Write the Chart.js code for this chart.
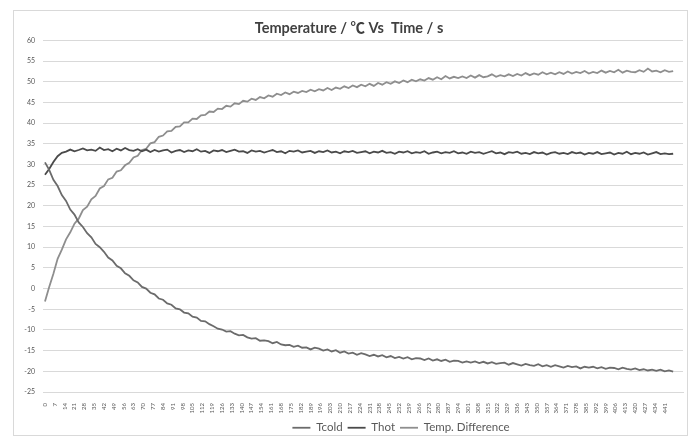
<!DOCTYPE html>
<html>
<head>
<meta charset="utf-8">
<script src="https://cdn.jsdelivr.net/npm/chart.js@4/dist/chart.umd.min.js"></script>
<style>
  body { margin: 0; background: #fff; }
  #frame { position: absolute; left: 13px; top: 10px; width: 673px; height: 424px; border: 1px solid #d9d9d9; }
  #wrap { position: absolute; left: 0; top: 0; width: 697px; height: 436px; }
</style>
</head>
<body>
<div id="frame"></div>
<div id="wrap"><canvas id="Temp_Chart" width="697" height="436"></canvas></div>
<script>
// sample times, one reading every 3 s
var seconds = Array.from({ length: 150 }, function (_, i) { return i * 3; });
var xTicks = Array.from({ length: 64 }, function (_, i) { return i * 7; });

var tcold = [
    30.5, 28.7, 26.3, 24.8, 22.6, 21.2, 19.1, 17.9, 16.0, 14.9,
    13.4, 12.4, 10.8, 10.0, 8.9, 7.5, 6.8, 5.5, 4.9, 3.7,
    3.1, 2.0, 1.5, 0.4, 0.0, -1.0, -1.4, -2.4, -2.7, -3.6,
    -3.9, -4.8, -5.0, -5.8, -6.0, -6.8, -7.0, -7.8, -7.9, -8.6,
    -9.1, -9.7, -9.9, -10.4, -10.3, -10.9, -11.3, -11.2, -11.8, -12.1,
    -12.0, -12.6, -12.5, -12.7, -13.2, -12.9, -13.5, -13.7, -13.6, -14.1,
    -13.8, -14.3, -14.2, -14.7, -14.3, -14.5, -15.0, -14.7, -15.2, -14.9,
    -15.5, -15.2, -15.7, -15.5, -16.0, -15.6, -15.9, -16.3, -16.0, -16.4,
    -16.1, -16.6, -16.3, -16.8, -16.5, -16.9, -16.6, -17.1, -16.8, -16.9,
    -17.3, -16.9, -17.4, -17.1, -17.5, -17.2, -17.7, -17.4, -17.5, -17.9,
    -17.6, -17.9, -17.6, -18.0, -17.7, -18.1, -17.8, -18.2, -18.0, -17.9,
    -18.4, -18.0, -18.3, -18.6, -18.2, -18.5, -18.7, -18.3, -18.8, -18.5,
    -18.9, -18.5, -18.8, -19.1, -18.7, -19.0, -18.8, -19.3, -18.9, -19.1,
    -18.9, -19.3, -19.0, -19.4, -19.1, -19.2, -19.5, -19.1, -19.4, -19.6,
    -19.3, -19.7, -19.5, -19.8, -19.6, -19.9, -19.6, -20.0, -19.8, -20.1
];

var thot = [
    27.5, 28.9, 30.6, 32.0, 32.8, 33.1, 33.6, 33.2, 33.5, 33.9,
    33.4, 33.6, 33.3, 34.1, 33.5, 33.7, 33.2, 33.8, 33.4, 34.0,
    33.5, 33.3, 33.7, 33.2, 33.6, 33.0, 33.5, 33.1, 33.4, 33.6,
    32.9, 33.3, 33.5, 33.0, 33.4, 33.2, 33.7, 33.1, 33.3, 32.8,
    33.4, 33.2, 33.5, 33.0, 33.3, 33.6, 33.1, 33.2, 32.8, 33.4,
    33.1, 33.3, 32.9, 33.2, 33.5, 33.0, 33.2, 32.7, 33.3, 33.1,
    33.4, 32.9, 33.1, 33.3, 32.8, 33.2, 33.0, 33.4, 32.9, 33.1,
    32.7, 33.2, 33.0, 33.3, 32.8, 33.0, 33.2, 32.7, 33.1, 32.9,
    33.3, 32.8, 33.0, 32.6, 33.1, 32.9, 33.2, 32.7, 33.0, 32.8,
    33.2, 32.6, 32.9, 33.1, 32.7, 33.0, 32.8, 33.2, 32.7, 32.9,
    32.6, 33.1, 32.8, 33.0, 32.6, 32.9, 33.2, 32.7, 32.9, 32.5,
    33.0, 32.8, 33.1, 32.6, 32.8, 32.5, 33.0, 32.7, 32.9, 32.4,
    32.8, 33.0, 32.6, 32.8, 32.5, 33.0, 32.7, 32.9, 32.4, 32.8,
    32.6, 33.0, 32.5, 32.7, 32.9, 32.4, 32.8, 32.6, 33.1, 32.5,
    32.8, 32.6, 32.9, 32.4, 32.7, 33.0, 32.5, 32.7, 32.5, 32.6
];

var tempDiff = [
    -3.1, 0.4, 3.6, 7.2, 9.4, 11.9, 13.6, 15.7, 16.9, 19.0,
    19.8, 21.6, 22.4, 24.2, 24.8, 26.4, 26.8, 28.3, 28.6, 29.8,
    30.4, 31.7, 32.1, 33.5, 33.8, 35.1, 35.4, 36.7, 37.0, 38.0,
    38.1, 39.1, 39.2, 40.2, 40.2, 41.1, 41.0, 41.9, 42.0, 42.8,
    42.7, 43.5, 43.4, 44.2, 44.0, 44.8, 44.6, 45.4, 45.2, 45.9,
    45.6, 46.3, 46.0, 46.7, 46.4, 47.1, 46.8, 47.4, 47.0, 47.6,
    47.3, 47.8, 47.5, 48.1, 47.7, 48.2, 47.9, 48.5, 48.0, 48.6,
    48.3, 48.9, 48.5, 49.1, 48.7, 49.3, 48.9, 49.5, 49.0, 49.7,
    49.3, 49.9, 49.5, 50.1, 49.7, 50.3, 49.9, 50.5, 50.1, 50.6,
    50.3, 50.9, 50.5, 51.1, 50.6, 51.4, 50.8, 51.2, 50.9, 51.3,
    50.9, 51.5, 51.0, 51.6, 51.1, 51.3, 51.8, 51.2, 51.6, 51.3,
    51.8, 51.4, 51.9, 51.5, 52.1, 51.6, 52.0, 51.7, 52.3, 51.8,
    52.2, 51.8, 52.3, 51.9, 52.5, 52.0, 52.4, 52.1, 52.6, 52.0,
    52.4, 52.1, 52.7, 52.2, 52.6, 52.3, 52.9, 52.2, 52.7, 52.4,
    52.3, 52.8, 52.4, 53.2, 52.5, 52.7, 52.3, 52.8, 52.4, 52.6
];

var seriesNames = ["Tcold", "Thot", "Temp. Difference"];
var seriesColors = ["#6b6b6b", "#4a4a4a", "#8e8e8e"];

function points(values) {
    return values.map(function (v, i) { return { x: seconds[i], y: v }; });
}

function makeSet(idx, values) {
    return {
        label: seriesNames[idx],
        data: points(values),
        borderColor: seriesColors[idx],
        backgroundColor: seriesColors[idx],
        borderWidth: 1.8,
        pointRadius: 0,
        lineTension: 0
    };
}

// legend in the reference sits right of centre
var legendShift = {
    id: 'legendShift',
    afterLayout: function (chart) {
        chart.legend.left += 52;
        chart.legend.right += 52;
    }
};

var tickFont = { family: "Lato, 'Noto Sans'", size: 7 };

new Chart(document.getElementById("Temp_Chart").getContext("2d"), {
    type: 'line',
    data: {
        datasets: [makeSet(0, tcold), makeSet(1, thot), makeSet(2, tempDiff)]
    },
    plugins: [legendShift],
    options: {
        responsive: false,
        animation: false,
        layout: { padding: { left: 15, right: 14, top: 0, bottom: 0 } },
        plugins: {
            title: {
                display: true,
                text: "Temperature / \u2103 Vs  Time / s",
                color: '#404040',
                font: { family: "Lato, 'Noto Sans CJK SC'", size: 14.5, weight: 'bold', lineHeight: 1.2 },
                padding: { top: 20, bottom: 3 }
            },
            legend: {
                position: 'bottom',
                maxHeight: 19,
                labels: {
                    usePointStyle: true,
                    pointStyle: 'line',
                    pointStyleWidth: 18,
                    boxHeight: 11,
                    padding: 5,
                    color: '#595959',
                    font: { family: "Lato, 'Noto Sans'", size: 11.5 }
                }
            },
            tooltip: { enabled: false }
        },
        scales: {
            x: {
                type: 'linear',
                min: -1.4,
                max: 454,
                afterBuildTicks: function (axis) {
                    axis.ticks = xTicks.map(function (v) { return { value: v }; });
                },
                afterFit: function (axis) { axis.height = 25; },
                grid: { display: false },
                border: { display: true, color: '#d9d9d9', width: 1 },
                ticks: {
                    autoSkip: false,
                    minRotation: 90,
                    maxRotation: 90,
                    padding: 3,
                    color: '#595959',
                    font: { family: "Lato, 'Noto Sans'", size: 6 }
                }
            },
            y: {
                min: -25,
                max: 60,
                afterFit: function (axis) { axis.width = 28; },
                grid: { color: '#d9d9d9', lineWidth: 1, drawTicks: false },
                border: { display: false },
                ticks: {
                    stepSize: 5,
                    padding: 8,
                    color: '#595959',
                    font: tickFont
                }
            }
        }
    }
});
</script>
</body>
</html>
